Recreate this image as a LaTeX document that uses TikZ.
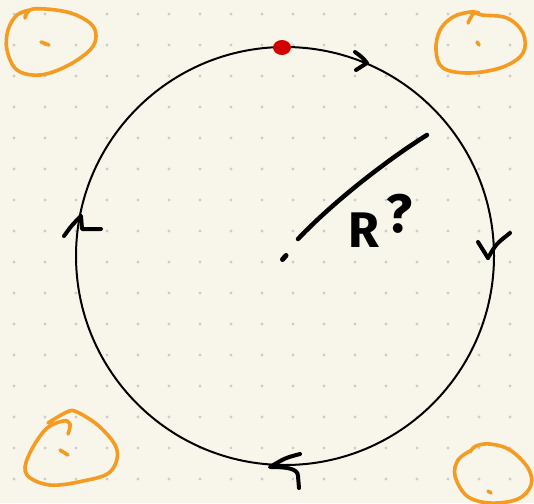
\documentclass[tikz,border=0pt]{standalone}
\usepackage{fontspec}
\newfontfamily\handfont{Fira Sans}
\begin{document}
\begin{tikzpicture}[x=1pt,y=-1pt,
  pen/.style={line width=4pt,line cap=round,line join=round,black},
  blob/.style={line width=3.6pt,line cap=round,line join=round,draw=orangec},
  dotfill/.style={fill=dotc}]
\definecolor{bgc}{HTML}{F8F6EB}
\definecolor{dotc}{HTML}{CCCCCA}
\definecolor{orangec}{HTML}{F59B22}
\definecolor{redc}{HTML}{D40000}
\fill[bgc] (0,0) rectangle (534,503);
\useasboundingbox (0,0) rectangle (534,503);
% dot grid
\foreach \i in {0,...,16}{
  \foreach \j in {0,...,15}{
    \fill[dotfill] ({14+31*\i},{14+31*\j}) circle (1.6);
  }
}
% main circle
\node[draw,circle,line width=2pt,minimum size=418pt,inner sep=0pt] (ring) at (285,256) {};
\coordinate (ctr) at (285,256);
% red marker
\fill[redc] (282,47.5) ellipse (9 and 7.5);
% direction arrows
\draw[pen] (355,52) .. controls (362,57) .. (367,63) .. controls (361,67) .. (356,70);
\draw[pen] (488,258) -- (478,242);
\draw[pen] (488,258) .. controls (496,244) .. (510,233);
\draw[pen] (300,454) .. controls (285,458) .. (270,467) .. controls (285,467) and (298,468) .. (298,476) -- (299,488);
\draw[pen] (64,236) .. controls (72,225) .. (81,216) .. controls (82,222) .. (82,229) -- (101,229);
% radius
\draw[pen,line width=5pt] (282.5,259.5) -- (286,255.5);
\draw[pen,line width=4.5pt] (298,239) .. controls (335,200) and (390,158) .. (427,135);
\node[font=\handfont\bfseries\fontsize{50}{50}\selectfont,inner sep=0pt] (rlab) at (364,230) {R};
\node[font=\handfont\bfseries\fontsize{54}{54}\selectfont,inner sep=0pt] (qlab) at (399,214) {?};
% orange blobs
\draw[blob] plot[smooth,tension=0.6] coordinates {(25,18) (33,9) (67,12) (90,23) (96,36) (90,50) (67,66) (40,75) (17,70) (7,50) (8,30) (17,15) (30,10)};
\draw[blob] (41,42) -- (49,45);
\draw[blob] plot[smooth,tension=0.6] coordinates {(468,23) (474,13) (482,15) (507,18) (523,33) (523,53) (503,67) (470,73) (443,68) (436,50) (440,30) (453,17) (470,12) (479,13)};
\draw[blob] (477,42) -- (479,45);
\draw[blob] plot[smooth,tension=0.6] coordinates {(68,434) (70,424) (63,421) (45,430) (28,457) (27,475) (50,485) (83,481) (110,472) (117,450) (100,427) (77,412) (67,412) (48,423)};
\draw[blob] (60,450) -- (68,455);
\draw[blob] plot[smooth,tension=0.6] coordinates {(470,452) (476,446) (490,444) (510,450) (528,468) (531,485) (518,499) (490,503) (467,496) (455,476) (458,460) (470,451)};
\draw[blob] (488,491) -- (491,493);
\end{tikzpicture}
\end{document}
